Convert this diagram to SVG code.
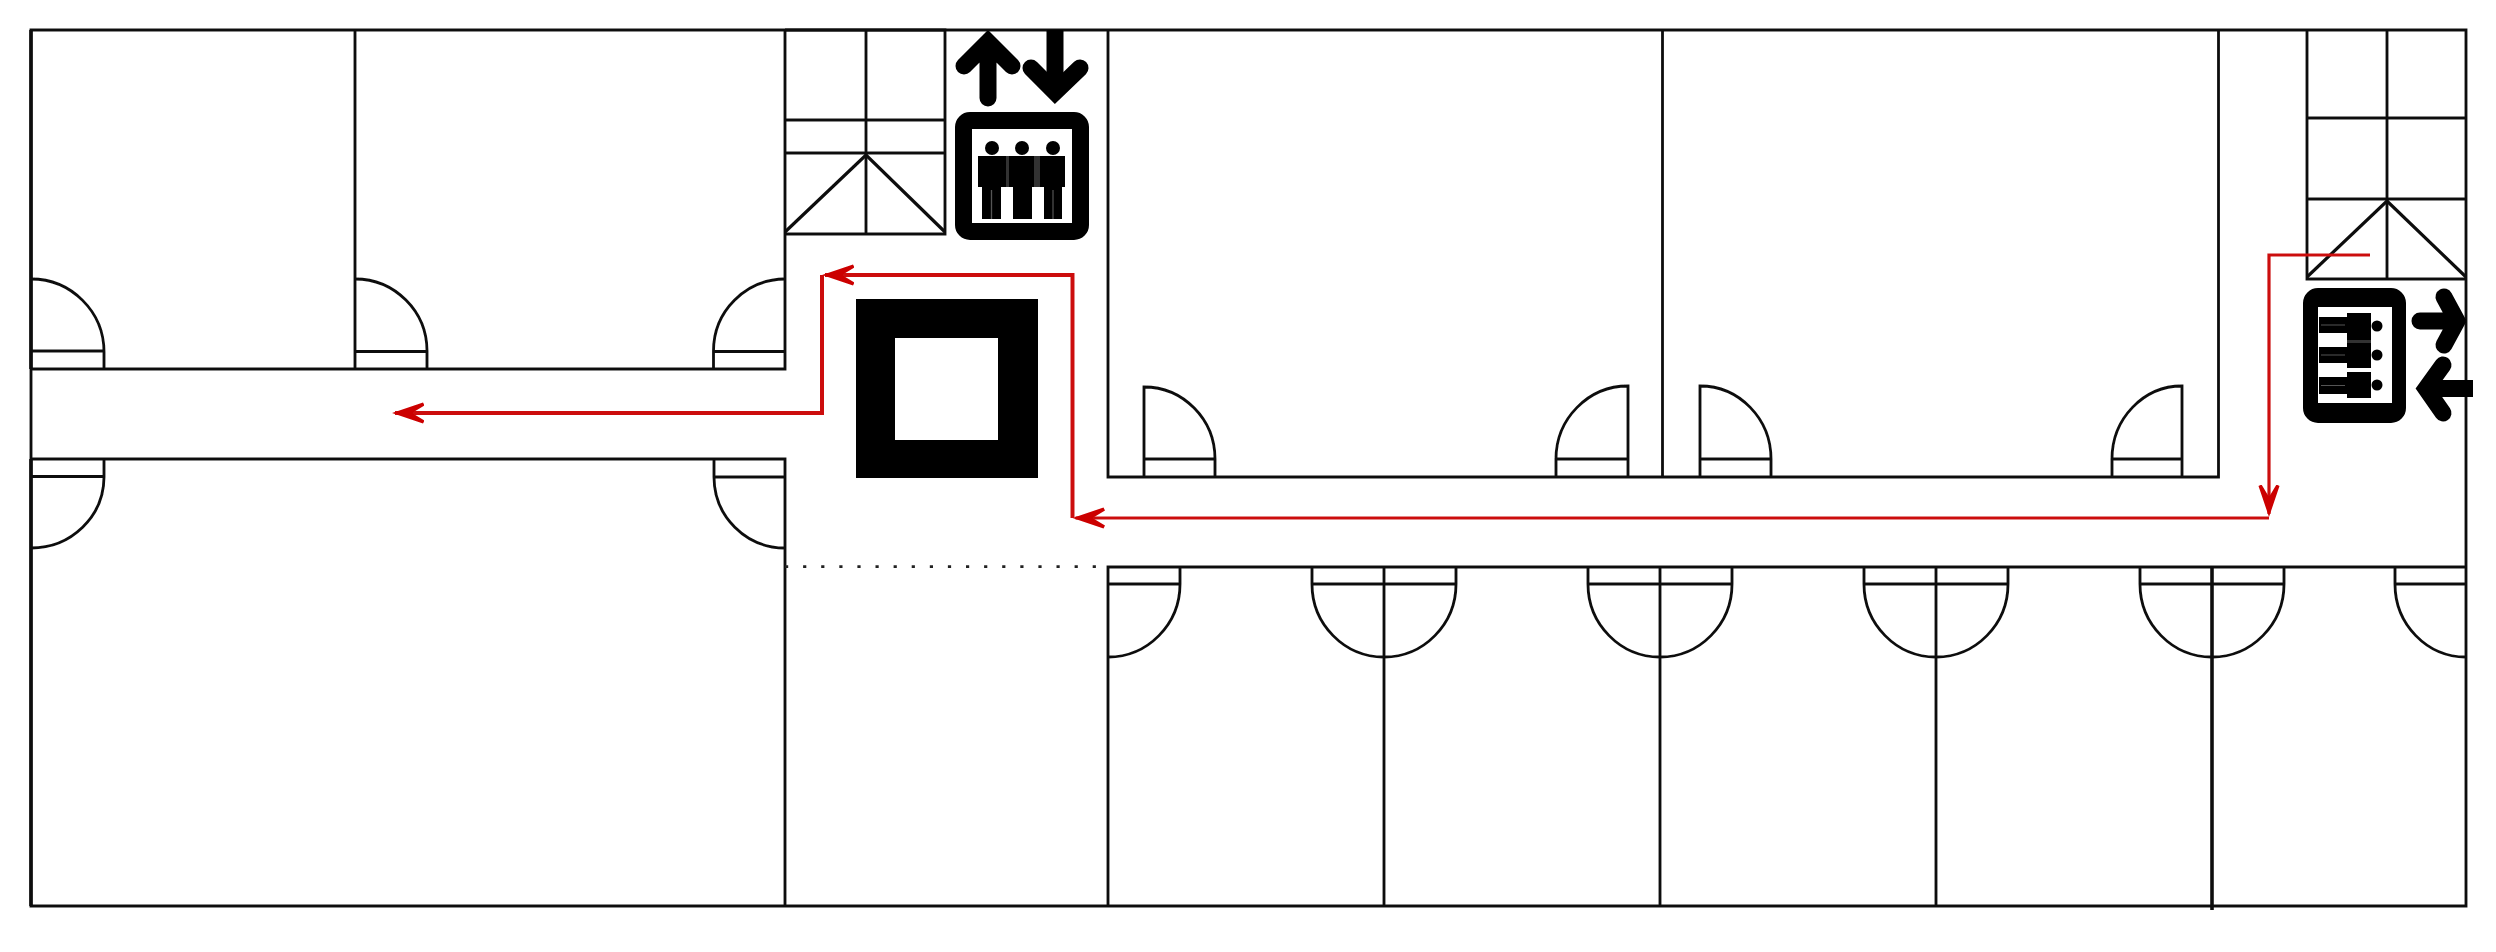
<svg xmlns="http://www.w3.org/2000/svg" width="2496" height="952" viewBox="0 0 2496 952">
<style>
.w{fill:none;stroke:#111;stroke-width:2.8}
.a{fill:none;stroke:#000;stroke-width:17;stroke-linecap:round;stroke-linejoin:miter}
.r{fill:none;stroke:#cc1111;stroke-width:3.2}
.k{fill:#000}
.g{stroke:#555;stroke-width:1.2;fill:none}
</style>
<defs>
<filter id="soft" x="0" y="0" width="100%" height="100%" filterUnits="userSpaceOnUse"><feGaussianBlur stdDeviation="0.55"/></filter>
<marker id="ah" markerUnits="userSpaceOnUse" markerWidth="34" markerHeight="24" refX="29" refY="12" orient="auto" viewBox="0 0 34 24">
<path d="M32 12L1 1.500L-0.500 4.500L12 12L-0.500 19.500L1 22.500Z" fill="#cc0000"/>
</marker>
</defs>
<rect width="2496" height="952" fill="#fff"/>
<g filter="url(#soft)">
<g id="walls">
<path class="w" d="M31 30H2466V906H31Z"/>
<path class="w" style="stroke-width:3.6" d="M31 30V369M31 459V906"/>
<path class="w" d="M355 30V369M31 369H785V30M31 459H785V906"/>
<path class="w" d="M1108 30V477H2218.500V30M1662.500 30V477"/>
<path class="w" d="M1108 906V567H2466M1384 567V906M1660 567V906M1936 567V906"/>
<path class="w" style="stroke-width:3.6" d="M2212 567V910"/>
</g>
<g id="opening">
<path d="M785 566.700H1102" fill="none" stroke="#222" stroke-width="2.800" stroke-dasharray="3.200 14.900"/>
</g>
<g id="doors">
<path id="door1" class="w" d="M31 279A73 73 0 0 1 104 352V369M31 351H104"/>
<path id="door2" class="w" d="M355 279A72 72 0 0 1 427 351V369M355 351.500H427"/>
<path id="door3" class="w" d="M785 279A72 72 0 0 0 713.500 351V369M713.500 351.500H785"/>
<path id="door4" class="w" d="M104 459V477A73 71 0 0 1 31 548M31 476.500H104"/>
<path id="door5" class="w" d="M714 459V477A71 71 0 0 0 785 548M714 477H785"/>
<path id="door6" class="w" d="M1144 477V387A71 72 0 0 1 1215 459V477M1144 459H1215"/>
<path id="door7" class="w" d="M1628 477V386A72 73 0 0 0 1556 459V477M1556 459H1628"/>
<path id="door8" class="w" d="M1700 477V386A71 73 0 0 1 1771 459V477M1700 459H1771"/>
<path id="door9" class="w" d="M2182 477V386A70 73 0 0 0 2112 459V477M2112 459H2182"/>
<path id="door10" class="w" d="M1180 567V584A72 73 0 0 1 1108 657M1108 584H1180"/>
<path id="door11" class="w" d="M1312 567V584A72 73 0 0 0 1456 584V567M1312 584H1456"/>
<path id="door12" class="w" d="M1588 567V584A72 73 0 0 0 1732 584V567M1588 584H1732"/>
<path id="door13" class="w" d="M1864 567V584A72 73 0 0 0 2008 584V567M1864 584H2008"/>
<path id="door14" class="w" d="M2140 567V584A72 73 0 0 0 2284 584V567M2140 584H2284"/>
<path id="door15" class="w" d="M2395 567V584A71 73 0 0 0 2466 657M2395 584H2466"/>
</g>
<g id="stairs-left">
<path class="w" d="M785 30H945V234H785M866 30V234M785 120H945M785 153H945"/>
<path class="w" style="stroke-width:3.200" d="M785 232L866 155L945 232"/>
</g>
<g id="stairs-right">
<path class="w" d="M2307 30V279H2466M2387 30V279M2307 118H2466M2307 199H2466"/>
<path class="w" style="stroke-width:3.200" d="M2307 277L2387 201L2466 277"/>
</g>
<g id="column">
<path class="k" fill-rule="evenodd" d="M856 299H1038V478H856ZM895 338V440H998V338Z"/>
</g>
<g id="elevator-top">
<path class="k" fill-rule="evenodd" d="M970 112H1074A15 15 0 0 1 1089 127V225A15 15 0 0 1 1074 240H970A15 15 0 0 1 955 225V127A15 15 0 0 1 970 112ZM972 129V223H1072V129Z"/>
<circle class="k" cx="992" cy="148" r="7"/><circle class="k" cx="1022" cy="148" r="7"/><circle class="k" cx="1053" cy="148" r="7"/>
<path class="k" d="M978 156H1006V187H978ZM1009 156H1034V187H1009ZM1040 156H1065V187H1040Z"/>
<path fill="#333" d="M1006 156H1009V187H1006ZM1034 156H1040V187H1034Z"/>
<path class="k" d="M982 187H1001V219H982ZM1013 187H1032V219H1013ZM1044 187H1062V219H1044Z"/>
<path class="g" d="M991.500 190V219M1053 190V219"/>
<path class="a" d="M988 98V42M964 66L988 42L1012 66"/>
<path class="a" style="stroke-linecap:butt" d="M1055 30V80"/>
<path class="a" d="M1031 68L1055 92L1080 68"/>
</g>
<g id="elevator-right">
<path class="k" fill-rule="evenodd" d="M2318 288H2391A15 15 0 0 1 2406 303V408A15 15 0 0 1 2391 423H2318A15 15 0 0 1 2303 408V303A15 15 0 0 1 2318 288ZM2318 307V403H2392V307Z"/>
<circle class="k" cx="2377" cy="326" r="5.500"/><circle class="k" cx="2377" cy="355" r="5.500"/><circle class="k" cx="2377" cy="385" r="5.500"/>
<path class="k" d="M2347 313H2371V340H2347ZM2347 343H2371V368H2347ZM2347 372H2371V398H2347Z"/>
<path fill="#333" d="M2347 340H2371V343H2347Z"/>
<path class="k" d="M2319 317H2347V333H2319ZM2319 347H2347V363H2319ZM2319 377H2347V394H2319Z"/>
<path class="g" d="M2321 325H2345M2321 355H2345M2321 385.500H2345"/>
<path class="a" d="M2420 321H2455M2444 297L2457 321L2444 345"/>
<path class="a" style="stroke-linecap:butt" d="M2473 388.500H2435"/>
<path class="a" d="M2443 365L2426 388.500L2443 413"/>
</g>
<g id="connectors">
<path class="r" d="M2370 255H2269V514" marker-end="url(#ah)"/>
<path class="r" d="M2269 518H1075.500" marker-end="url(#ah)"/>
<path class="r" style="stroke-width:4" d="M1072.500 518V275H825" marker-end="url(#ah)"/>
<path class="r" d="M822 275V413H395" style="stroke-width:4" marker-end="url(#ah)"/>
</g>
</g>
</svg>
